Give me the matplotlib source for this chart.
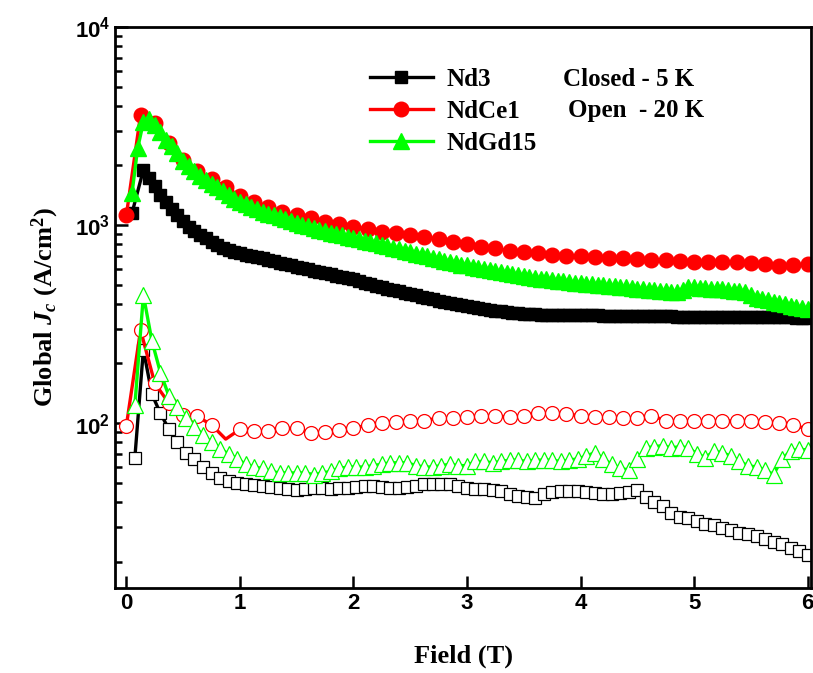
import matplotlib.pyplot as plt
from matplotlib.ticker import FixedLocator, FixedFormatter, LogLocator, NullFormatter, NullLocator

# field grids (T)
field_fine = [0.05, 0.1, 0.15, 0.2, 0.25, 0.3, 0.35, 0.4, 0.45, 0.5,
              0.55, 0.6, 0.65, 0.7, 0.75, 0.8, 0.85, 0.9, 0.95, 1.0,
              1.05, 1.1, 1.15, 1.2, 1.25, 1.3, 1.35, 1.4, 1.45, 1.5,
              1.55, 1.6, 1.65, 1.7, 1.75, 1.8, 1.85, 1.9, 1.95, 2.0,
              2.05, 2.1, 2.15, 2.2, 2.25, 2.3, 2.35, 2.4, 2.45, 2.5,
              2.55, 2.6, 2.65, 2.7, 2.75, 2.8, 2.85, 2.9, 2.95, 3.0,
              3.05, 3.1, 3.15, 3.2, 3.25, 3.3, 3.35, 3.4, 3.45, 3.5,
              3.55, 3.6, 3.65, 3.7, 3.75, 3.8, 3.85, 3.9, 3.95, 4.0,
              4.05, 4.1, 4.15, 4.2, 4.25, 4.3, 4.35, 4.4, 4.45, 4.5,
              4.55, 4.6, 4.65, 4.7, 4.75, 4.8, 4.85, 4.9, 4.95, 5.0,
              5.05, 5.1, 5.15, 5.2, 5.25, 5.3, 5.35, 5.4, 5.45, 5.5,
              5.55, 5.6, 5.65, 5.7, 5.75, 5.8, 5.85, 5.9, 5.95, 6.0]
field_nd3 = [0.05] + field_fine[2:]

field_red = [0.0, 0.125, 0.25, 0.375, 0.5, 0.625, 0.75, 0.875, 1.0, 1.125,
             1.25, 1.375, 1.5, 1.625, 1.75, 1.875, 2.0, 2.125, 2.25, 2.375,
             2.5, 2.625, 2.75, 2.875, 3.0, 3.125, 3.25, 3.375, 3.5, 3.625,
             3.75, 3.875, 4.0, 4.125, 4.25, 4.375, 4.5, 4.625, 4.75, 4.875,
             5.0, 5.125, 5.25, 5.375, 5.5, 5.625, 5.75, 5.875, 6.0]

field_open = [0.075, 0.15, 0.225, 0.3, 0.375, 0.45, 0.525, 0.6, 0.675, 0.75,
              0.825, 0.9, 0.975, 1.05, 1.125, 1.2, 1.275, 1.35, 1.425, 1.5,
              1.575, 1.65, 1.725, 1.8, 1.875, 1.95, 2.025, 2.1, 2.175, 2.25,
              2.325, 2.4, 2.475, 2.55, 2.625, 2.7, 2.775, 2.85, 2.925, 3.0,
              3.075, 3.15, 3.225, 3.3, 3.375, 3.45, 3.525, 3.6, 3.675, 3.75,
              3.825, 3.9, 3.975, 4.05, 4.125, 4.2, 4.275, 4.35, 4.425, 4.5,
              4.575, 4.65, 4.725, 4.8, 4.875, 4.95, 5.025, 5.1, 5.175, 5.25,
              5.325, 5.4, 5.475, 5.55, 5.625, 5.7, 5.775, 5.85, 5.925, 6.0]

# closed symbols - 5 K (A/cm2)
nd3_5k = [1150, 1900,
          1730, 1580, 1420, 1300, 1200, 1130, 1050, 980, 935, 895,
          860, 825, 795, 770, 750, 735, 720, 708, 700, 690,
          680, 668, 655, 645, 635, 625, 615, 606, 597, 588,
          580, 575, 568, 555, 546, 540, 532, 522, 512, 503,
          494, 486, 478, 470, 462, 455, 448, 441, 435, 428,
          421, 415, 409, 403, 398, 394, 390, 386, 382, 378,
          374, 370, 366, 363, 360, 358, 356, 355, 354, 353,
          352, 352, 351, 351, 350, 350, 350, 350, 350, 350,
          349, 349, 349, 348, 348, 348, 347, 347, 347, 346,
          346, 346, 346, 345, 345, 345, 345, 345, 345, 345,
          344, 344, 344, 344, 344, 344, 344, 344, 344, 343,
          343, 343, 342, 342, 341, 341, 340]

ndce1_5k = [1120, 3600, 3270, 2600, 2130, 1870, 1710, 1560, 1400, 1310,
            1230, 1160, 1120, 1080, 1040, 1010, 980, 955, 922, 911,
            890, 870, 850, 820, 802, 774, 765, 739, 731, 722,
            705, 697, 697, 690, 681, 681, 673, 666, 666, 658,
            650, 650, 650, 650, 643, 636, 623, 630, 636]

ndgd15_5k = [1450, 2450, 3300, 3450, 3200, 2950, 2700, 2500, 2300, 2100,
             1980, 1870, 1770, 1690, 1620, 1550, 1480, 1420, 1360, 1310,
             1270, 1230, 1200, 1170, 1140, 1120, 1100, 1070, 1050, 1030,
             1000, 985, 965, 945, 930, 915, 900, 890, 875, 860,
             848, 835, 820, 808, 795, 782, 770, 755, 742, 730,
             718, 706, 695, 684, 672, 660, 650, 640, 632, 625,
             617, 608, 600, 592, 585, 578, 572, 565, 558, 552,
             546, 540, 536, 532, 528, 524, 520, 516, 512, 508,
             505, 502, 500, 497, 494, 490, 487, 484, 481, 478,
             475, 472, 469, 466, 463, 460, 457, 470, 486, 484,
             482, 480, 478, 476, 473, 470, 467, 463, 460, 445,
             430, 422, 416, 410, 404, 398, 392, 387, 383, 378]

# open symbols - 20 K (A/cm2)
nd3_20k = [67, 235, 140, 112, 93, 80, 71, 66, 60, 56,
           53, 51, 50, 49, 48.5, 48, 47.5, 47, 46.5, 46,
           46.5, 47, 47, 46.5, 47, 47, 47.5, 48, 48, 47.5,
           47, 47, 47.5, 48, 49, 49.5, 49.5, 49, 48, 47,
           46.5, 46.5, 46, 45.5, 44, 43, 42.5, 42, 44, 45,
           45.5, 45.5, 45.5, 45, 44.5, 44, 44, 44.5, 45, 46,
           42.5, 40, 38, 35, 33.5, 33, 32, 31, 30.5, 29.5,
           29, 28, 27.5, 27, 26, 25, 24.5, 23.5, 22.5, 21.7]

ndce1_20k = [97, 295, 159, 126, 110, 108, 98, 83, 93, 91,
             91, 94, 94, 89, 90, 92, 94, 98, 100, 101,
             103, 103, 106, 106, 107, 109, 109, 107, 109, 112,
             112, 111, 109, 107, 107, 106, 106, 109, 103, 102,
             102, 102, 103, 102, 102, 101, 100, 98, 93]

ndgd15_20k = [123, 443, 260, 180, 137, 120, 106, 96, 87, 80,
              74, 70, 66, 62, 60, 59, 57, 56, 56, 56,
              56, 55, 56, 57, 59, 60, 60, 60, 61, 62,
              63, 63, 63, 61, 60, 60, 61, 62, 61, 61,
              64, 64, 63, 64, 65, 65, 64, 65, 65, 65,
              64, 65, 66, 68, 71, 66, 62, 59, 58, 66,
              75, 76, 77, 75, 76, 75, 70, 67, 72, 71,
              68, 64, 61, 60, 58, 55, 66, 72, 74, 73]

plt.rcParams['mathtext.fontset'] = 'custom'
plt.rcParams['mathtext.rm'] = 'Liberation Serif:bold'
plt.rcParams['mathtext.it'] = 'Liberation Serif:italic:bold'
plt.rcParams['mathtext.bf'] = 'Liberation Serif:bold'
plt.rcParams['mathtext.sf'] = 'Liberation Sans:bold'

green = '#00ff00'
serif = dict(family='Liberation Serif', weight='bold')

fig = plt.figure(figsize=(8.13, 6.73), dpi=100)
ax = fig.add_axes([115 / 813, 1 - 588 / 673, (811 - 115) / 813, (588 - 27) / 673])

# 20 K, open symbols (the dip point of NdCe1 has no visible symbol)
red_marks = [i for i in range(len(field_red)) if i != 7]
ax.plot(field_open, nd3_20k, '-s', color='black', mfc='white', mec='black', ms=8, mew=0.9, lw=2.4)
ax.plot(field_red, ndce1_20k, '-o', color='red', mfc='white', mec='red', ms=10, mew=0.9, lw=2.4,
        markevery=red_marks)
ax.plot(field_open, ndgd15_20k, '-^', color=green, mfc='white', mec=green, ms=11, mew=0.9, lw=2.4)

# 5 K, closed symbols
l1, = ax.plot(field_nd3, nd3_5k, '-s', color='black', ms=9, lw=2.4, label='Nd3')
l2, = ax.plot(field_red, ndce1_5k, '-o', color='red', ms=10.5, lw=2.4, label='NdCe1')
l3, = ax.plot(field_fine, ndgd15_5k, '-^', color=green, ms=11, lw=2.4, label='NdGd15')

ax.set_yscale('log')
ax.set_xlim(-0.1, 6.03)
ax.set_ylim(14.7, 1e4)

ax.xaxis.set_major_locator(FixedLocator([0, 1, 2, 3, 4, 5, 6]))
ax.xaxis.set_minor_locator(NullLocator())
ax.yaxis.set_major_locator(FixedLocator([1e2, 1e3, 1e4]))
ax.yaxis.set_major_formatter(FixedFormatter([r'$\mathsf{10^{2}}$', r'$\mathsf{10^{3}}$', r'$\mathsf{10^{4}}$']))
ax.yaxis.set_minor_locator(LogLocator(base=10, subs=range(2, 10)))
ax.yaxis.set_minor_formatter(NullFormatter())

ax.tick_params(which='both', direction='in', top=False, right=False, width=1.8)
ax.tick_params(which='major', length=9, labelsize=16)
ax.tick_params(which='minor', length=5)
for lab in ax.get_xticklabels():
    lab.set_family('Liberation Sans')
    lab.set_weight('bold')
for s in ax.spines.values():
    s.set_linewidth(2)

ax.set_xlabel('Field (T)', fontsize=19, labelpad=22, **serif)
ax.set_ylabel(r'Global $J_c$ (A/cm$^2$)', fontsize=19, labelpad=10, **serif)

ax.legend(handles=[l1, l2, l3], loc='upper left', bbox_to_anchor=(370 / 813, 1 - 68 / 673),
          bbox_transform=fig.transFigure, frameon=False, prop=dict(size=18, **serif),
          handlelength=2.5, handletextpad=0.55, labelspacing=0.35, borderpad=0, borderaxespad=0)
fig.text(563 / 813, 1 - 79 / 673, 'Closed - 5 K', fontsize=18, va='center', **serif)
fig.text(568 / 813, 1 - 111 / 673, 'Open  - 20 K', fontsize=18, va='center', **serif)

fig.savefig('out.png', dpi=100)
